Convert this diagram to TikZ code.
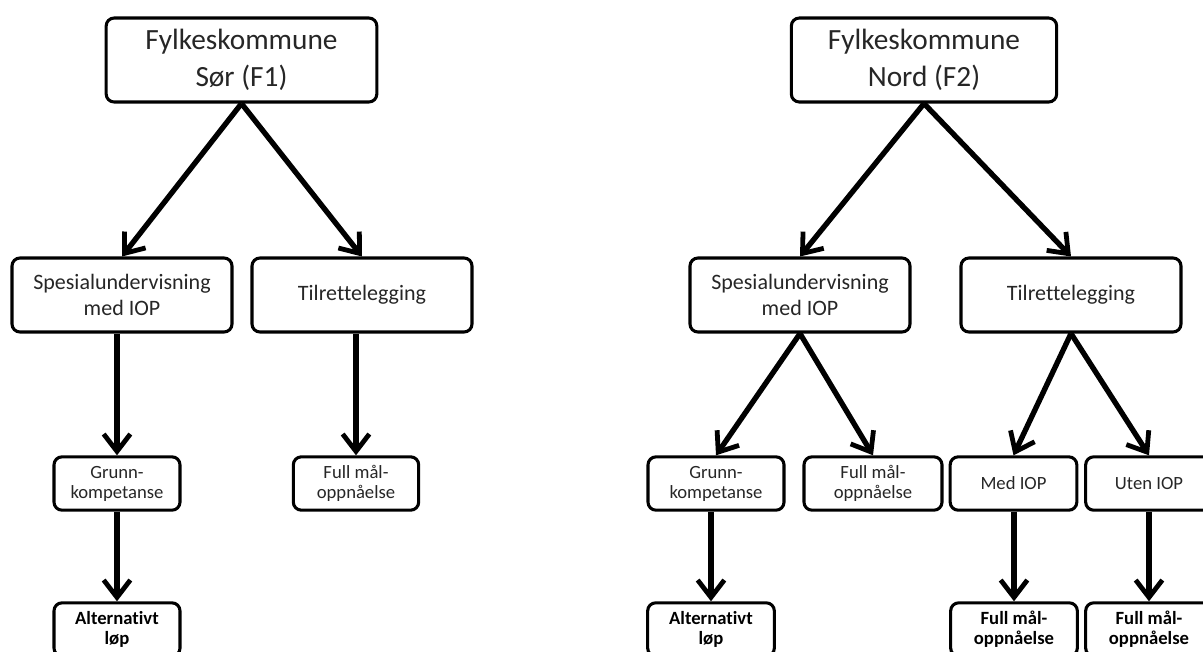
\documentclass[tikz,border=0pt]{standalone}
\usepackage{fontspec}
\setmainfont[Ligatures=NoCommon]{Carlito}
\usepackage{tikz}
\usetikzlibrary{arrows.meta}

\begin{document}
\begin{tikzpicture}[x=0.75pt,y=-0.75pt,
    box/.style={draw, rounded corners=6pt, line width=2.3pt, align=center, inner sep=0pt, text=black!85},
    topbox/.style={box, minimum height=63pt, font=\fontsize{22}{27.5}\selectfont},
    midbox/.style={box, minimum width=165pt, minimum height=55.5pt, font=\fontsize{16.5}{20}\selectfont},
    lowbox/.style={box, minimum height=40pt, font=\fontsize{14}{15}\selectfont},
    endbox/.style={lowbox, text=black, font=\fontsize{14}{15}\selectfont\bfseries},
    arr/.style={line width=4pt, -{Straight Barb[length=13pt,width=20pt,line width=3.6pt]}}]

\useasboundingbox (0,0) rectangle (1203,651);

% Left tree (F1)
\node[topbox, minimum width=203pt] (root1) at (241.5,60) {Fylkeskommune\\Sør (F1)};
\node[midbox] (spes1) at (122,295) {Spesialundervisning\\med IOP};
\node[midbox] (tilr1) at (362,295) {Tilrettelegging};
\node[lowbox, minimum width=94.5pt] (grunn1) at (117,483.5) {Grunn-\\kompetanse};
\node[lowbox, minimum width=94pt] (full1) at (356,483.5) {Full mål-\\oppnåelse};
\node[endbox, minimum width=94.5pt] (alt1) at (117,629.5) {Alternativt\\løp};

% Right tree (F2)
\node[topbox, minimum width=199pt] (root2) at (924,60) {Fylkeskommune\\Nord (F2)};
\node[midbox] (spes2) at (800,295) {Spesialundervisning\\med IOP};
\node[midbox] (tilr2) at (1071,295) {Tilrettelegging};
\node[lowbox, minimum width=102pt] (grunn2) at (716,483.5) {Grunn-\\kompetanse};
\node[lowbox, minimum width=103.5pt] (fullA2) at (873,483.5) {Full mål-\\oppnåelse};
\node[lowbox, minimum width=95pt] (med2) at (1013.5,483.5) {Med IOP};
\node[lowbox, minimum width=95pt] (uten2) at (1149,483.5) {Uten IOP};
\node[endbox, minimum width=95pt] (alt2) at (711,629.5) {Alternativt\\løp};
\node[endbox, minimum width=95pt] (fullB2) at (1014,629.5) {Full mål-\\oppnåelse};
\node[endbox, minimum width=95pt] (fullC2) at (1149,629.5) {Full mål-\\oppnåelse};

% Arrows, left
\draw[arr] (root1.south) -- (spes1.north);
\draw[arr] (root1.south) -- (tilr1.north);
\draw[arr] (spes1.south -| grunn1.north) -- (grunn1.north);
\draw[arr] (tilr1.south -| full1.north) -- (full1.north);
\draw[arr] (grunn1.south) -- (alt1.north);

% Arrows, right
\draw[arr] (root2.south) -- (spes2.north);
\draw[arr] (root2.south) -- (tilr2.north);
\draw[arr] (spes2.south) -- (grunn2.north);
\draw[arr] (spes2.south) -- (fullA2.north);
\draw[arr] (tilr2.south) -- (med2.north);
\draw[arr] (tilr2.south) -- (uten2.north);
\draw[arr] (grunn2.south -| alt2.north) -- (alt2.north);
\draw[arr] (med2.south -| fullB2.north) -- (fullB2.north);
\draw[arr] (uten2.south) -- (fullC2.north);

\end{tikzpicture}
\end{document}
